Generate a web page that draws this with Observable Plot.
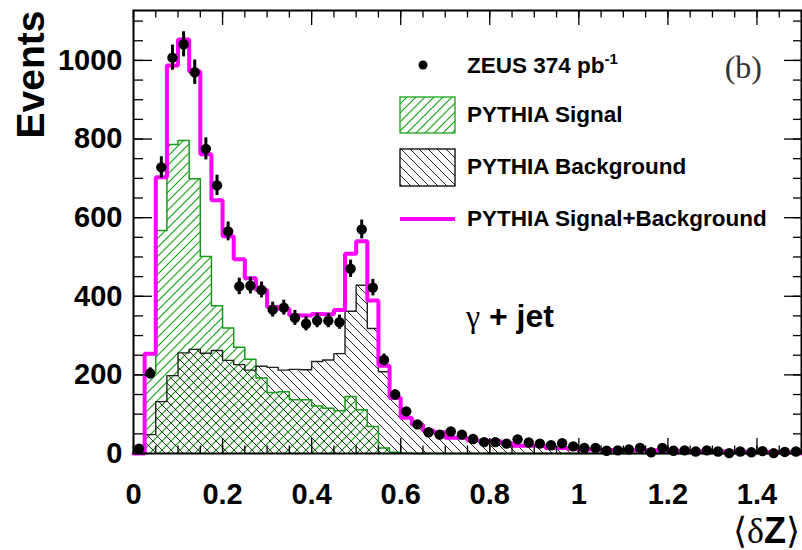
<!DOCTYPE html>
<html>
<head>
<meta charset="utf-8">
<script src="https://cdn.jsdelivr.net/npm/d3@7"></script>
<script src="https://cdn.jsdelivr.net/npm/@observablehq/plot@0.6"></script>
<style>
  html, body { margin: 0; padding: 0; background: white; }
  #chart svg { display: block; }
</style>
</head>
<body>
<div id="chart"></div>
<script>
// ---- Data (60 bins of width 0.025 from 0 to 1.5) ----
const binWidth = 0.025;
const dataValues = [12,204,728,1007,1041,970,775,682,565,425,427,416,366,371,345,330,338,338,334,470,570,422,238,150,107,74,54,48,56,48,37,29,29,25,36,28,25,21,26,18,14,14,7,8,10,14,3,14,7,8,5,8,5,1,5,3,6,1,4,5];
const dataErrors = [3,14,27,32,32,31,28,26,24,21,21,20,19,19,19,18,18,18,18,22,24,21,15,12,10,9,7,7,7,7,6,5,5,5,6,5,5,5,5,4,4,4,3,3,3,4,2,4,3,3,2,3,2,1,2,2,2,1,2,2];
const signalValues = [0,205,567,786,796,699,501,376,319,270,240,192,155,157,137,137,121,115,109,145,111,69,14,3,1,0,0,0,0,0,0,0,0,0,0,0,0,0,0,0,0,0,0,0,0,0,0,0,0,0,0,0,0,0,0,0,0,0,0,0];
const backgroundValues = [0,48,132,198,256,265,255,262,237,226,212,222,219,212,214,213,234,238,254,362,428,318,208,139,90,74,58,54,40,40,33,32,32,26,20,20,20,14,14,12,10,10,9,9,8,8,8,7,7,6,6,6,5,5,5,4,4,4,3,3];
const totalValues = [0,254,703,987,1053,972,761,644,553,494,446,416,373,368,352,351,355,354,365,508,540,389,223,142,91,74,58,54,40,40,33,32,32,26,20,20,20,14,14,12,10,10,9,9,8,8,8,7,7,6,6,6,5,5,5,4,4,4,3,3];

const xTickLabels = [0, 0.2, 0.4, 0.6, 0.8, 1, 1.2, 1.4];
const xMinorTicks = d3.range(0, 31).map(i => i * 0.05);
const yTickLabels = [0, 200, 400, 600, 800, 1000];
const yMinorTicks = d3.range(0, 23).map(i => i * 50);

const legendLabels = ["ZEUS 374 pb", "PYTHIA Signal", "PYTHIA Background", "PYTHIA Signal+Background"];

// ---- Derived tables for the library ----
const points = dataValues.map((v, i) => ({x: (i + 0.5) * binWidth, v, e: dataErrors[i]}));
function steps(vals) {
  const pts = [];
  vals.forEach((v, i) => { pts.push({x: i * binWidth, y: v}); pts.push({x: (i + 1) * binWidth, y: v}); });
  return pts;
}
function outline(vals) {
  const s = steps(vals);
  return [{x: 0, y: 0}, ...s, {x: vals.length * binWidth, y: 0}];
}

const GREEN = "#16a316";
const GREEN_LINE = "#1a9a1a";
const MAGENTA = "#ff00ff";

const W = 802, H = 550;
const mL = 133, mR = 1, mT = 10, mB = 97;
const plotW = W - mL - mR, plotH = H - mT - mB;

const defsMark = () => {
  const ns = "http://www.w3.org/2000/svg";
  const defs = document.createElementNS(ns, "defs");
  defs.innerHTML = `
    <pattern id="hatchG" width="9" height="9" patternUnits="userSpaceOnUse">
      <path d="M-1,1 l2,-2 M0,9 l9,-9 M8,10 l2,-2" stroke="${GREEN}" stroke-width="1.2"/>
    </pattern>
    <pattern id="hatchK" width="9" height="9" patternUnits="userSpaceOnUse">
      <path d="M-1,8 l2,2 M0,0 l9,9 M8,-1 l2,2" stroke="#000" stroke-width="0.85"/>
    </pattern>`;
  return defs;
};

const chart = Plot.plot({
  width: W, height: H,
  marginLeft: mL, marginRight: mR, marginTop: mT, marginBottom: mB,
  x: {domain: [0, 1.5], axis: null},
  y: {domain: [0, 1127], axis: null},
  style: {fontFamily: "'Liberation Sans', Arial, Helvetica, sans-serif", background: "white", overflow: "visible"},
  marks: [
    defsMark,
    Plot.areaY(steps(signalValues), {x: "x", y1: 0, y2: "y", fill: "url(#hatchG)"}),
    Plot.areaY(steps(backgroundValues), {x: "x", y1: 0, y2: "y", fill: "url(#hatchK)"}),
    Plot.line(outline(signalValues), {x: "x", y: "y", stroke: GREEN_LINE, strokeWidth: 1.5}),
    Plot.line(outline(backgroundValues), {x: "x", y: "y", stroke: "#222", strokeWidth: 1.4}),
    Plot.line(outline(totalValues), {x: "x", y: "y", stroke: MAGENTA, strokeWidth: 4, strokeLinejoin: "miter"}),
    Plot.ruleX(points, {x: "x", y1: d => d.v - d.e, y2: d => d.v + d.e, stroke: "black", strokeWidth: 3}),
    Plot.dot(points, {x: "x", y: "v", r: 5.2, fill: "black", stroke: "none"}),
    // ticks inside the frame
    Plot.tickX(xMinorTicks, {x: d => d, insetTop: plotH - 7.5, stroke: "black", strokeWidth: 1.3}),
    Plot.tickX(xMinorTicks, {x: d => d, insetBottom: plotH - 7.5, stroke: "black", strokeWidth: 1.3}),
    Plot.tickX(xTickLabels, {x: d => d, insetTop: plotH - 15, stroke: "black", strokeWidth: 1.3}),
    Plot.tickX(xTickLabels, {x: d => d, insetBottom: plotH - 15, stroke: "black", strokeWidth: 1.3}),
    Plot.tickY(yMinorTicks, {y: d => d, insetRight: plotW - 10, stroke: "black", strokeWidth: 1.3}),
    Plot.tickY(yMinorTicks, {y: d => d, insetLeft: plotW - 8, stroke: "black", strokeWidth: 1.3}),
    Plot.tickY(yTickLabels, {y: d => d, insetRight: plotW - 19, stroke: "black", strokeWidth: 1.3}),
    Plot.tickY(yTickLabels, {y: d => d, insetLeft: plotW - 17, stroke: "black", strokeWidth: 1.3}),
    Plot.frame({stroke: "black", strokeWidth: 2}),
    // tick labels
    Plot.text(xTickLabels, {x: d => d, y: 0, dy: 41, text: d => String(d), fontSize: 29, fontWeight: "bold", fill: "black"}),
    Plot.text(yTickLabels, {x: 0, y: d => d, dx: -11, text: d => String(d), textAnchor: "end", fontSize: 29, fontWeight: "bold", fill: "black"}),
    // axis title (y)
    Plot.text(["Events"], {frameAnchor: "top-left", dx: -117, dy: 0, rotate: -90, textAnchor: "end", fontSize: 39, fontWeight: "bold", fill: "black"})
  ]
});

document.getElementById("chart").appendChild(chart);

// ---- Legend and annotations ----
const svg = d3.select(chart);
const g = svg.append("g").attr("font-family", "'Liberation Sans', Arial, sans-serif").attr("text-anchor", "start");
const LFS = 22.5;

// data marker
g.append("circle").attr("cx", 423).attr("cy", 65).attr("r", 4.5).attr("fill", "black");
const t0 = g.append("text").attr("x", 467).attr("y", 73).attr("font-size", LFS).attr("font-weight", "bold").text(legendLabels[0]);
t0.append("tspan").attr("dy", -9).attr("font-size", 15).text("-1");

// signal box
g.append("rect").attr("x", 400).attr("y", 97).attr("width", 55).attr("height", 36)
  .attr("fill", "url(#hatchG)").attr("stroke", GREEN).attr("stroke-width", 1.3);
g.append("text").attr("x", 467).attr("y", 122).attr("font-size", LFS).attr("font-weight", "bold").text(legendLabels[1]);

// background box
g.append("rect").attr("x", 400).attr("y", 149).attr("width", 55).attr("height", 37)
  .attr("fill", "url(#hatchK)").attr("stroke", "black").attr("stroke-width", 1.3);
g.append("text").attr("x", 467).attr("y", 174).attr("font-size", LFS).attr("font-weight", "bold").text(legendLabels[2]);

// total line
g.append("line").attr("x1", 400).attr("x2", 455).attr("y1", 219).attr("y2", 219)
  .attr("stroke", MAGENTA).attr("stroke-width", 4);
g.append("text").attr("x", 467).attr("y", 226).attr("font-size", LFS).attr("font-weight", "bold").text(legendLabels[3]);

// (b)
g.append("text").attr("x", 762).attr("y", 78).attr("text-anchor", "end")
  .attr("font-family", "'Liberation Serif', 'DejaVu Serif', serif").attr("font-size", 32).attr("fill", "#333").text("(b)");

// gamma + jet
const gj = g.append("text").attr("x", 466).attr("y", 327).attr("font-size", 32).attr("font-weight", "bold");
gj.append("tspan").attr("font-family", "'Liberation Serif', 'DejaVu Serif', serif").attr("font-weight", "normal").text("γ");
gj.append("tspan").text(" + jet");

// x axis title
const xt = g.append("text").attr("x", 800).attr("y", 543).attr("text-anchor", "end").attr("font-size", 36);
xt.append("tspan").attr("font-family", "'Liberation Serif', serif").text("⟨δ");
xt.append("tspan").attr("font-weight", "bold").text("Z");
xt.append("tspan").attr("font-family", "'Liberation Serif', serif").text("⟩");
</script>
</body>
</html>
